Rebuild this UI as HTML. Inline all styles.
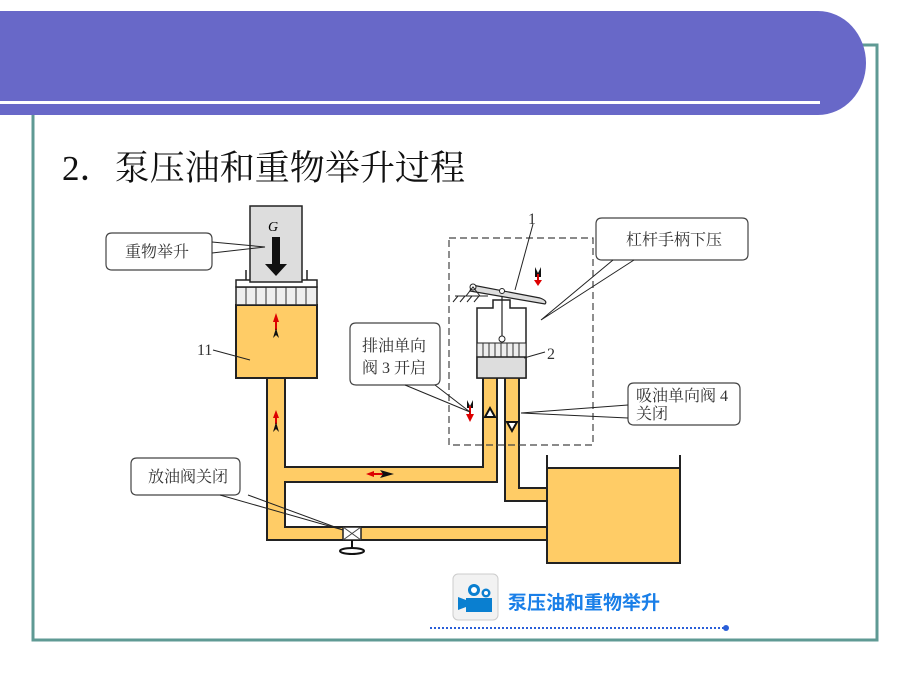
<!DOCTYPE html>
<html><head><meta charset="utf-8"><style>
body{margin:0;background:#fff;}
svg{display:block;}
text{font-family:"Liberation Serif","Noto Serif CJK SC",serif;}
</style></head><body>
<svg width="900" height="675" viewBox="0 0 900 675" xmlns="http://www.w3.org/2000/svg">
<g stroke="#5f9a94" stroke-width="3" fill="none">
<path d="M33 112 V640 H877 V45 H855"/>
</g>
<path d="M0 11 H818 A48 52 0 0 1 818 115 H0 Z" fill="#6868c8"/>
<rect x="0" y="101" width="820" height="3" fill="#fff"/>
<text x="62" y="180" font-size="35" fill="#111" textLength="403" lengthAdjust="spacingAndGlyphs">2．泵压油和重物举升过程</text>

<g stroke="#222" stroke-width="2" fill="#ffcc66">
<path d="M267 377 V540 H548 V527 H285 V482 H497 V377 H483 V467 H285 V377 Z"/>
<path d="M505 377 V501 H548 V488 H519 V377 Z"/>
<rect x="547" y="468" width="133" height="95"/>
<rect x="236" y="305" width="81" height="73"/>
</g>
<path d="M547 468 V455 M680 468 V455" stroke="#222" stroke-width="2"/>
<rect x="236" y="287" width="81" height="18" fill="#eee" stroke="#222" stroke-width="1.5"/>
<g stroke="#333" stroke-width="1">
<path d="M246 287v18M256 287v18M266 287v18M276 287v18M286 287v18M296 287v18M306 287v18"/>
</g>
<rect x="236" y="280" width="81" height="7" fill="#fff" stroke="#222" stroke-width="1.5"/>
<path d="M246 280 V270 M307 280 V270" stroke="#222" stroke-width="1.5"/>
<rect x="250" y="206" width="52" height="76" fill="#ddd" stroke="#222" stroke-width="1.5"/>
<text x="268" y="231" font-size="14" font-style="italic">G</text>
<path d="M272 237 h8 v27 h7 l-11 12 l-11 -12 h7 Z" fill="#111"/>
<g>
<path d="M276 313 l-3 9 h6 Z" fill="#d00"/><rect x="275" y="320" width="2" height="10" fill="#d00"/>
<path d="M276 328 l-3 10 l3 -3 l3 3 Z" fill="#111"/>
<path d="M276 410 l-3 8 h6 Z" fill="#d00"/><rect x="275" y="416" width="2" height="8" fill="#d00"/>
<path d="M276 422 l-3 10 l3 -3 l3 3 Z" fill="#111"/>
<path d="M366 474 l8 -3 v6 Z" fill="#d00"/><rect x="372" y="473" width="12" height="2" fill="#d00"/>
<path d="M380 470 l14 4 l-14 4 l3 -4 Z" fill="#111"/>
</g>
<path d="M477 378 V308 H493 V300 H510 V308 H526 V378 Z" fill="#fff" stroke="#222" stroke-width="1.5"/>
<rect x="477" y="343" width="49" height="14" fill="#eee" stroke="#222" stroke-width="1"/>
<g stroke="#333" stroke-width="1"><path d="M483 343v14M489 343v14M495 343v14M501 343v14M507 343v14M513 343v14M519 343v14"/></g>
<rect x="477" y="357" width="49" height="21" fill="#ddd" stroke="#222" stroke-width="1.5"/>
<line x1="502" y1="291" x2="502" y2="338" stroke="#222" stroke-width="1.2"/>
<circle cx="502" cy="339" r="3" fill="#fff" stroke="#222"/>
<path d="M472 285 L540 298 Q548 301 545 304 L470 291 Z" fill="#ddd" stroke="#222" stroke-width="1.2"/>
<circle cx="473" cy="287" r="3" fill="#fff" stroke="#222"/>
<circle cx="502" cy="291" r="2.5" fill="#fff" stroke="#222"/>
<path d="M466 296 L473 287 L480 296 M455 296 H488 M458 296 l-5 6 M465 296 l-5 6 M472 296 l-5 6 M479 296 l-5 6" stroke="#222" fill="none" stroke-width="1"/>
<path d="M535 267 l3 6 l3 -6 v10 h-6 Z" fill="#111"/><rect x="537" y="274" width="2" height="8" fill="#d00"/><path d="M534 280 h8 l-4 6 Z" fill="#d00"/>
<path d="M467 400 l3 6 l3 -6 v8 h-6 Z" fill="#111"/><rect x="469" y="406" width="2" height="10" fill="#d00"/><path d="M466 414 h8 l-4 8 Z" fill="#d00"/>
<path d="M485 417 l5 -9 l5 9 Z" fill="#fff" stroke="#111" stroke-width="2"/>
<path d="M507 422 l5 9 l5 -9 Z" fill="#fff" stroke="#111" stroke-width="2"/>
<rect x="449" y="238" width="144" height="207" fill="none" stroke="#444" stroke-width="1.2" stroke-dasharray="7,4"/>
<rect x="343" y="527" width="18" height="13" fill="#fff" stroke="#222" stroke-width="1.5"/>
<path d="M343 527 L361 540 M361 527 L343 540" stroke="#444"/>
<path d="M352 540 V551" stroke="#111" stroke-width="2"/>
<ellipse cx="352" cy="551" rx="12" ry="3" fill="#fff" stroke="#111" stroke-width="2"/>
<g fill="#fff" stroke="#444" stroke-width="1.2">
<path d="M112 233 H206 Q212 233 212 239 V264 Q212 270 206 270 H112 Q106 270 106 264 V239 Q106 233 112 233 Z"/>
<path d="M356 323 H434 Q440 323 440 329 V379 Q440 385 434 385 H356 Q350 385 350 379 V329 Q350 323 356 323 Z"/>
<path d="M602 218 H742 Q748 218 748 224 V254 Q748 260 742 260 H602 Q596 260 596 254 V224 Q596 218 602 218 Z"/>
<path d="M634 383 H734 Q740 383 740 389 V419 Q740 425 734 425 H634 Q628 425 628 419 V389 Q628 383 634 383 Z"/>
<path d="M137 458 H234 Q240 458 240 464 V489 Q240 495 234 495 H137 Q131 495 131 489 V464 Q131 458 137 458 Z"/>
</g>
<g stroke="#222" stroke-width="1" fill="none">
<path d="M212 242 L265 247 L212 253"/>
<path d="M405 385 L470 412 L435 385"/>
<path d="M613 260 L541 320 L634 260"/>
<path d="M628 405 L521 413 L628 418"/>
<path d="M220 495 L343 530 L248 495"/>
<path d="M533 224 L515 290"/>
<path d="M524 358 L545 352"/>
<path d="M213 350 L250 360"/>
</g>
<g font-size="16" fill="#333">
<text x="125" y="257">重物举升</text>
<text x="362" y="351">排油单向</text>
<text x="362" y="373">阀 3 开启</text>
<text x="626" y="245">杠杆手柄下压</text>
<text x="636" y="401">吸油单向阀 4</text>
<text x="636" y="419">关闭</text>
<text x="148" y="482">放油阀关闭</text>
<text x="528" y="224">1</text>
<text x="547" y="359">2</text>
<text x="197" y="355">11</text>
</g>
<rect x="453" y="574" width="45" height="46" rx="5" fill="#f2f2f2" stroke="#ccc"/>
<g fill="#0a7fd0">
<circle cx="474" cy="590" r="6"/><circle cx="486" cy="593" r="4.5"/>
<rect x="466" y="598" width="26" height="14"/><path d="M466 600 l-8 -3 v13 l8 -3 Z"/>
</g>
<circle cx="474" cy="590" r="3" fill="#fff"/><circle cx="486" cy="593" r="2" fill="#fff"/>
<text x="508" y="609" font-size="19" font-weight="bold" fill="#1a7fe8" style="font-family:'Liberation Sans','Noto Sans CJK SC',sans-serif">泵压油和重物举升</text>
<line x1="430" y1="628" x2="724" y2="628" stroke="#2a5fd8" stroke-width="2" stroke-dasharray="2,2"/>
<circle cx="726" cy="628" r="3" fill="#2a5fd8"/>
</svg>
</body></html>
